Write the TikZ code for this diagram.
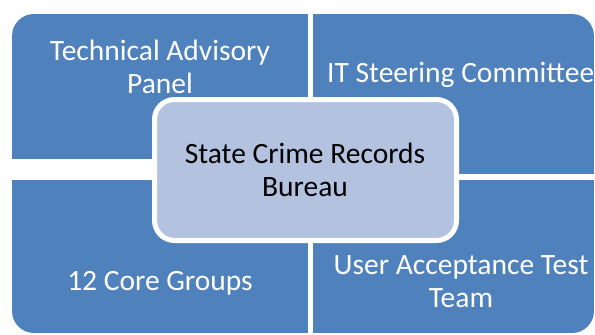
\documentclass[tikz,border=0pt]{standalone}
\usepackage{fontspec}
\setmainfont{Carlito}
\definecolor{quadblue}{RGB}{79,129,189}
\definecolor{centerfill}{RGB}{179,194,222}
\begin{document}
\begin{tikzpicture}[x=1bp,y=1bp,
  quad/.style={fill=quadblue},
  qtext/.style={text=white,font=\fontsize{29.5bp}{33bp}\selectfont,inner sep=0pt,align=center},
  ctext/.style={text=black,font=\fontsize{29.5bp}{33bp}\selectfont,inner sep=0pt,align=center},
  centerbox/.style={fill=centerfill,draw=white,line width=5bp,rounded corners=20bp}]
\useasboundingbox (0,0) rectangle (595,334);
\begin{scope}
  \clip[rounded corners=22bp] (12,1) rectangle (594,320);
  \fill[quad] (12,175) rectangle (308,320);
  \fill[quad] (313,160) rectangle (594,320);
  \fill[quad] (12,1) rectangle (308,154);
  \fill[quad] (313,1) rectangle (594,154);
\end{scope}
\node[qtext,anchor=base] (tap) at (160,241) {Technical Advisory\\Panel};
\node[qtext,anchor=base west] (itsc) at (327,252) {IT Steering Committee};
\node[qtext,anchor=base] (core) at (160,44) {12 Core Groups};
\node[qtext,anchor=base] (uat) at (461,27) {User Acceptance Test\\Team};
\draw[centerbox] (154.5,93.5) rectangle (456.5,234.5);
\node[ctext,anchor=base] (scrb) at (305,138) {State Crime Records\\Bureau};
\end{tikzpicture}
\end{document}
